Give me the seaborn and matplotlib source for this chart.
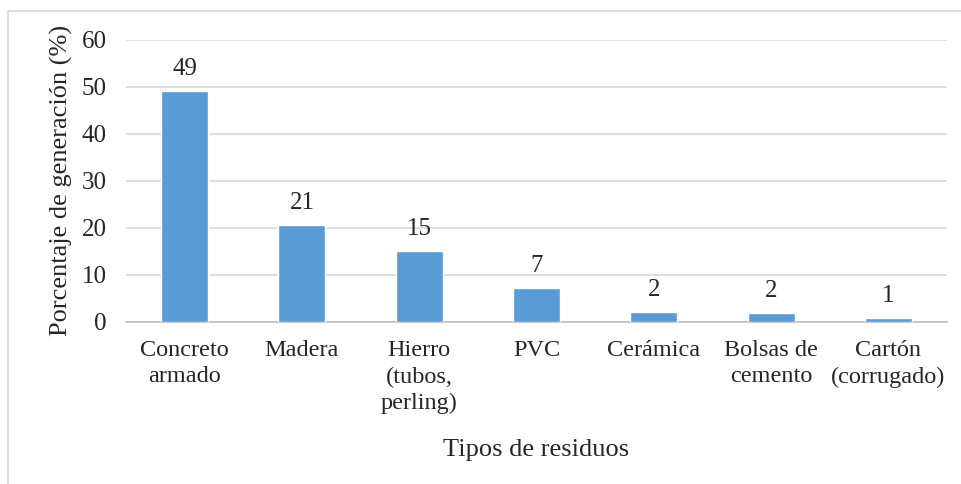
import numpy as np
import pandas as pd
import seaborn as sns
import matplotlib
matplotlib.use('Agg')
import matplotlib.pyplot as plt
from matplotlib.patches import Rectangle

# data
residuos = ['Concreto\narmado', 'Madera', 'Hierro\n(tubos,\nperling)', 'PVC',
            'Cerámica', 'Bolsas de\ncemento', 'Cartón\n(corrugado)']
porcentaje = [49.1, 20.5, 15.0, 7.2, 2.1, 1.9, 0.8]
etiquetas = ['49', '21', '15', '7', '2', '2', '1']
yticks = [0, 10, 20, 30, 40, 50, 60]

sns.set_style('white')
plt.rcParams['font.family'] = ['Liberation Serif', 'DejaVu Serif']

df = pd.DataFrame({'residuo': residuos, 'pct': porcentaje})

fig = plt.figure(figsize=(9.61, 4.84), dpi=100)
ax = fig.add_axes([0.1311, 0.3353, 0.8543, 0.5821])

# light frame around the chart
fig.patches.append(Rectangle((0.0083, -0.05), 1.2, 1.027, transform=fig.transFigure,
                             fill=False, edgecolor='#d9d9d9', linewidth=1.2, zorder=0))

sns.barplot(data=df, x='residuo', y='pct', color='#5B9BD5', saturation=1,
            width=0.4, ax=ax, zorder=3)

ax.bar_label(ax.containers[0], labels=etiquetas, padding=8, fontsize=18)

ax.set_ylim(0, 60)
ax.set_xlim(-0.5, len(residuos) - 0.5)
ax.set_yticks(yticks)
ax.yaxis.grid(True, color='#d9d9d9', linewidth=1.2, zorder=0)
ax.set_axisbelow(True)

# tick marks between categories
ax.set_xticks(np.arange(-0.5, len(residuos), 1), minor=True)
ax.tick_params(axis='x', which='major', length=0, pad=13, labelsize=17.5)
ax.tick_params(axis='x', which='minor', length=6, color='#bfbfbf', width=1.2)
ax.tick_params(axis='y', length=0, pad=14, labelsize=18)
for lab in ax.get_xticklabels():
    lab.set_linespacing(1.35)

for s in ['top', 'right', 'left']:
    ax.spines[s].set_visible(False)
ax.spines['bottom'].set_color('#bfbfbf')
ax.spines['bottom'].set_linewidth(1.2)

ax.set_xlabel('Tipos de residuos', fontsize=19, labelpad=18)
ax.set_ylabel('Porcentaje de generación (%)', fontsize=19, labelpad=6)

fig.savefig('out.png', dpi=100)
